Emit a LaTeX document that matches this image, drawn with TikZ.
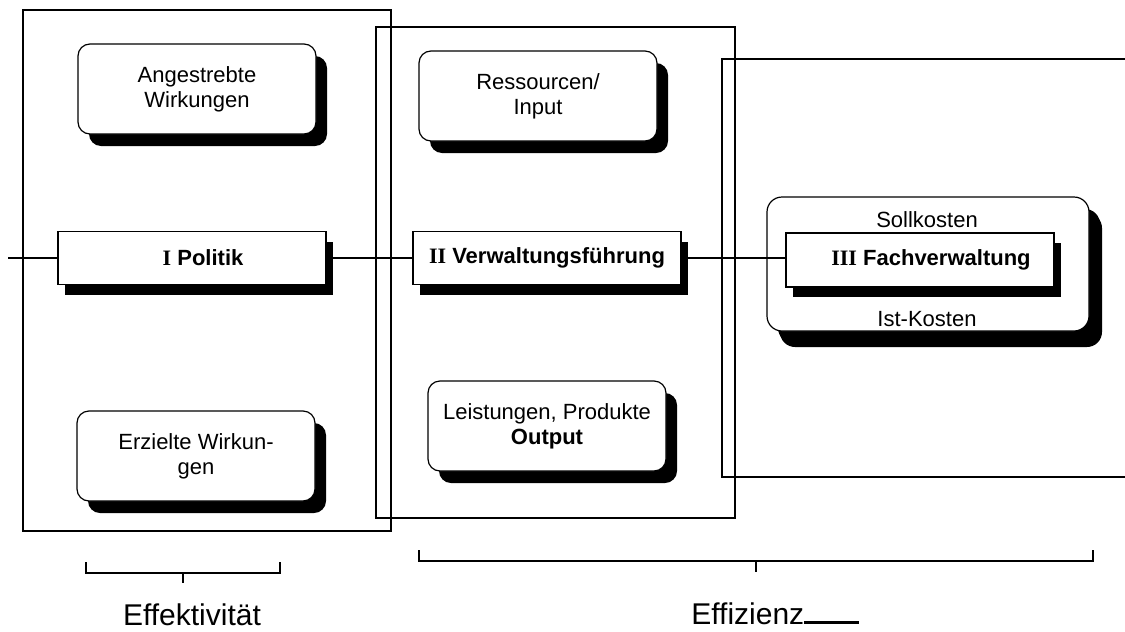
\documentclass[tikz,border=0pt]{standalone}
\usepackage{fontspec}
\setmainfont{Liberation Sans}
\newfontfamily\numfont{Liberation Serif}
\usetikzlibrary{positioning, shadows}
\tikzset{
  goal/.style={
    minimum width=119pt,
    minimum height=45pt,
    draw, fill=white, rounded corners=6pt, line width=0.6pt,
    align=center, font=\fontsize{11}{12.5}\selectfont,
    drop shadow={shadow xshift=5.5pt, shadow yshift=-6pt,
      opacity=1, fill=black},
  },
  level/.style={
    minimum width=134pt,
    minimum height=26.5pt,
    draw, fill=white, line width=0.6pt,
    font=\fontsize{11}{12.5}\selectfont\bfseries,
    drop shadow={shadow xshift=3.5pt, shadow yshift=-5pt,
      opacity=1, fill=black},
  },
  frame/.style={line width=0.9pt},
  brace/.style={line width=0.6pt},
  measure/.style={font=\fontsize{15}{17}\selectfont, inner ysep=0pt},
}
\newcommand{\rn}[1]{{\numfont\bfseries #1}}

\begin{document}
\begin{tikzpicture}[x=0.5pt, y=-0.5pt]
\useasboundingbox (0,0) rectangle (1125,632);
% frames
\draw[frame] (23,10) rectangle (391,531);
\draw[frame] (376,27) rectangle (735,518);
\draw[frame] (1125,59) -- (722,59) -- (722,477) -- (1125,477);

% boxes
\node[goal] (angestrebt) at (197,89) {Angestrebte\\Wirkungen};
\node[goal] (ressourcen) at (538,96) {Ressourcen/\\Input};
\node[goal] (erzielt) at (196,456) {Erzielte Wirkun-\\gen};
\node[goal] (leistung) at (547,426) {Leistungen, Produkte\\\textbf{Output}};
\node[goal, minimum width=161pt, minimum height=67pt,
  rounded corners=7.5pt,
  drop shadow={shadow xshift=6.5pt, shadow yshift=-8pt, opacity=1, fill=black}]
  (kosten) at (928,264) {};
\node[font=\fontsize{11}{12.5}\selectfont] (soll) at (927,220) {Sollkosten};
\node[font=\fontsize{11}{12.5}\selectfont] (ist) at (927,319) {Ist-Kosten};

\node[level] (politik) at (192,258) {\hspace*{11pt}\rn{I} Politik};
\node[level] (verwaltung) at (547,258) {\rn{II} Verwaltungsführung};
\node[level, minimum height=27pt] (fach) at (920,260) {\hspace*{11pt}\rn{III} Fachverwaltung};

% connectors
\coordinate (start) at (8,258);
\begin{scope}[line width=0.6pt]
  \draw (start) -- (politik);
  \draw (politik) -- (verwaltung);
  \draw (verwaltung.east) -- (verwaltung.east -| fach.west);
\end{scope}

% braces
\draw[brace] (86,562) -- (86,573) -- (280,573) -- (280,562);
\draw[brace] (183,573) -- (183,583);
\draw[brace] (419,550) -- (419,561) -- (1093,561) -- (1093,550);
\draw[brace] (756,561) -- (756,572);
\node[measure, anchor=base] (effekt) at (192,625) {Effektivität};
\node[measure, anchor=base west, inner xsep=0pt] (effiz) at (691,624)
  {Effizienz\rule{27.5pt}{1.5pt}};
\end{tikzpicture}
\end{document}
